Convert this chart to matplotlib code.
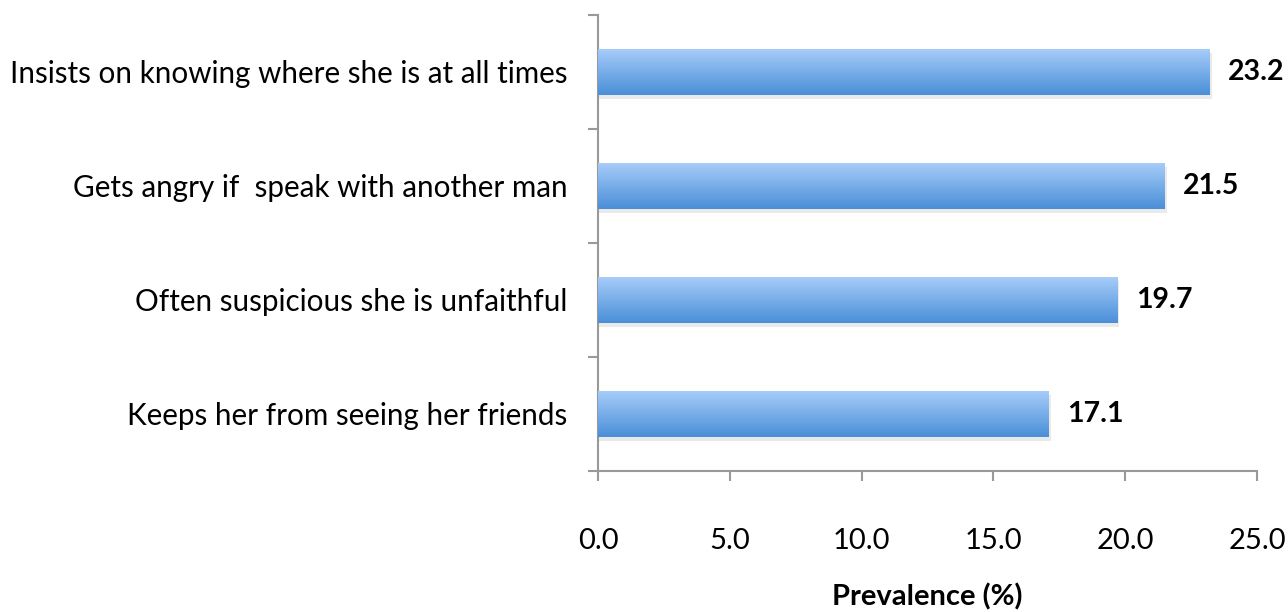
import numpy as np
import matplotlib.pyplot as plt
from matplotlib.colors import LinearSegmentedColormap

# datos
categorias = ["Keeps her from seeing her friends",
              "Often suspicious she is unfaithful",
              "Gets angry if  speak with another man",
              "Insists on knowing where she is at all times"]
valores = [17.1, 19.7, 21.5, 23.2]
ticks_x = [0, 5, 10, 15, 20, 25]

plt.rcParams['font.family'] = ['Lato', 'DejaVu Sans']

fig = plt.figure(figsize=(12.88, 6.12), dpi=100)
ax = fig.add_axes([0.4643, 0.2304, 0.5117, 0.7451])

y = np.arange(len(categorias))
alto = 0.41
grad = LinearSegmentedColormap.from_list("azul", ["#4a8fd8", "#a8cdfa"])
img = np.linspace(0, 1, 100).reshape(-1, 1)

for yi, v in zip(y, valores):
    # sombra
    ax.barh(yi - 0.035, v + 0.08, height=alto, color="#bbbbbb", alpha=0.3, zorder=1)
    b = ax.barh(yi, v, height=alto, color="none", zorder=2)[0]
    im = ax.imshow(img, cmap=grad, aspect="auto", origin="lower",
                   extent=[0, v, yi - alto / 2, yi + alto / 2], zorder=3)
    im.set_clip_path(b)
    ax.text(v + 0.7, yi, f"{v:.1f}", va="center", ha="left",
            fontsize=20.5, fontweight="bold")

ax.set_xlim(0, 25)
ax.set_ylim(-0.5, len(categorias) - 0.5)
ax.set_xticks(ticks_x)
ax.set_xticklabels([f"{t:.1f}" for t in ticks_x], fontsize=21)
ax.set_yticks(np.arange(-0.5, len(categorias), 1.0))
ax.set_yticklabels([])
ax.set_yticks(y, minor=True)
ax.set_yticklabels(categorias, minor=True, fontsize=21.3)
ax.tick_params(axis="y", which="minor", length=0, pad=22)
ax.tick_params(axis="y", which="major", length=7, width=1.5, color="#999999")
ax.tick_params(axis="x", length=7, width=1.5, color="#999999", pad=34)

for s in ["top", "right"]:
    ax.spines[s].set_visible(False)
for s in ["left", "bottom"]:
    ax.spines[s].set_color("#999999")
    ax.spines[s].set_linewidth(1.5)

ax.set_xlabel("Prevalence (%)", fontsize=21, fontweight="bold", labelpad=21)

fig.savefig("out.png", dpi=100)
